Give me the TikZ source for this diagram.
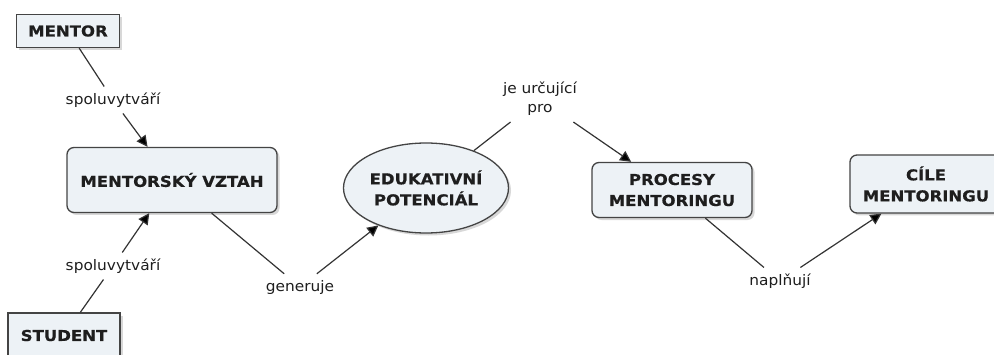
\documentclass[tikz,border=0pt]{standalone}
\usepackage{fontspec}
\setmainfont{DejaVu Sans}
\newfontfamily\conceptfont[FakeStretch=1.1,BoldFeatures={FakeBold=0.6}]{DejaVu Sans}
\newfontfamily\linkfont[FakeStretch=1.06]{DejaVu Sans}
\usetikzlibrary{arrows.meta,shapes.geometric,shadows}

\definecolor{boxfill}{HTML}{EDF2F6}
\definecolor{edgegray}{HTML}{444444}
\definecolor{linegray}{HTML}{333333}
\definecolor{textdark}{HTML}{1E1E1E}

\tikzset{
  concept/.style={draw=edgegray, line width=1.3pt, fill=boxfill,
    font=\conceptfont\bfseries\fontsize{15}{21}\selectfont,
    text=textdark, align=center, inner sep=0pt,
    drop shadow={opacity=0.3, shadow xshift=2.5pt, shadow yshift=-2.5pt}},
  sharpbox/.style={concept, rectangle},
  roundbox/.style={concept, rectangle, rounded corners=7pt},
  ovalbox/.style={concept, ellipse},
  linklabel/.style={font=\linkfont\fontsize{14.5}{19}\selectfont,
    text=textdark, inner sep=6pt, align=center},
  link/.style={draw=linegray, line width=1.2pt},
  arrowlink/.style={link, -{Triangle[length=11pt,width=11pt,fill=black]}}
}

\begin{document}
\begin{tikzpicture}[x=1pt,y=1pt]
  \useasboundingbox[fill=white] (0,0) rectangle (994,354);

  % concepts
  \node[sharpbox, minimum width=103pt, minimum height=33pt] (mentor) at (68,323) {MENTOR};
  \node[roundbox, minimum width=210pt, minimum height=65pt] (vztah) at (172,174) {MENTORSKÝ VZTAH};
  \node[sharpbox, minimum width=112pt, minimum height=45pt] (student) at (64,18.5) {STUDENT};
  \node[ovalbox, minimum width=165pt, minimum height=90pt] (edu) at (426,166) {EDUKATIVNÍ\\POTENCIÁL};
  \node[roundbox, minimum width=160pt, minimum height=55pt] (procesy) at (672,164) {PROCESY\\MENTORINGU};
  \node[roundbox, minimum width=152pt, minimum height=58pt] (cile) at (926,170) {CÍLE\\MENTORINGU};

  % linking phrases
  \node[linklabel] (l1) at (113,254) {spoluvytváří};
  \node[linklabel] (l2) at (113,88) {spoluvytváří};
  \node[linklabel] (gen) at (300,67) {generuje};
  \node[linklabel] (urc) at (540,255) {je určující\\pro};
  \node[linklabel] (nap) at (780,73) {naplňují};

  % connectors
  \draw[link] (mentor) -- (l1);
  \draw[arrowlink] (l1) -- (vztah);
  \draw[link] (student) -- (l2);
  \draw[arrowlink] (l2) -- (vztah);
  \draw[link] (vztah) -- (gen);
  \draw[arrowlink] (gen) -- (edu);
  \draw[link] (edu) -- (urc);
  \draw[arrowlink] (urc) -- (procesy);
  \draw[link] (procesy) -- (nap);
  \draw[arrowlink] (nap) -- (cile);
\end{tikzpicture}
\end{document}
